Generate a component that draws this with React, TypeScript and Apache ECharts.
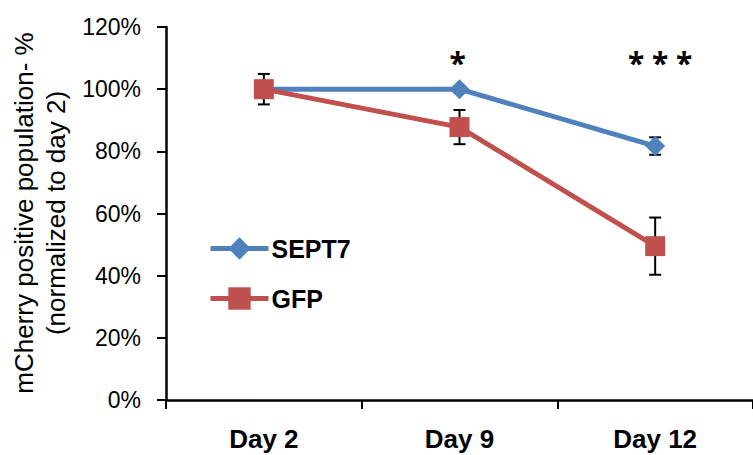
import React, { useEffect, useRef } from "react";
import * as echarts from "echarts";

const categories = ["Day 2", "Day 9", "Day 12"];
const sept7Values = [100, 100, 81.7];
const sept7Errors = [1, 1, 2.8];
const gfpValues = [100, 87.8, 49.5];
const gfpErrors = [4.9, 5.5, 9.2];
const yTicks = { min: 0, max: 120, interval: 20 };
const significanceMarks = [
  { cat: 1, value: 108.5, text: "*" },
  { cat: 2, value: 108.5, text: "* * *" },
];
const yTitle = ["mCherry positive population- %", "(normalized to day 2)"];

const BLUE = "#4F81BD";
const RED = "#C0504D";

function errorSeries(values: number[], errors: number[], name: string) {
  return {
    type: "custom",
    name: name + "-err",
    z: 1,
    silent: true,
    data: values.map((v, i) => [i, v - errors[i], v + errors[i]]),
    renderItem: (params: any, api: any) => {
      const x = api.value(0);
      const lo = api.coord([x, api.value(1)]);
      const hi = api.coord([x, api.value(2)]);
      const cap = 6;
      const style = { stroke: "#000", lineWidth: 2 };
      return {
        type: "group",
        children: [
          { type: "line", shape: { x1: lo[0], y1: lo[1], x2: hi[0], y2: hi[1] }, style },
          { type: "line", shape: { x1: lo[0] - cap, y1: lo[1], x2: lo[0] + cap, y2: lo[1] }, style },
          { type: "line", shape: { x1: hi[0] - cap, y1: hi[1], x2: hi[0] + cap, y2: hi[1] }, style },
        ],
      };
    },
  };
}

export default function App() {
  const ref = useRef<HTMLDivElement>(null);
  useEffect(() => {
    if (!ref.current) return;
    const chart = echarts.init(ref.current, undefined, { renderer: "svg" });
    const font = "'Liberation Sans', Arial, sans-serif";
    chart.setOption({
      animation: false,
      backgroundColor: "#fff",
      grid: { left: 166, top: 27, width: 592, height: 373 },
      legend: {
        orient: "vertical",
        left: 203,
        top: 231,
        itemGap: 25,
        itemWidth: 58,
        itemHeight: 28,
        data: ["SEPT7", "GFP"],
        lineStyle: { width: 5 },
        textStyle: { fontFamily: font, fontSize: 25, fontWeight: "bold", color: "#000", padding: [0, 0, 0, -2] },
      },
      xAxis: {
        type: "category",
        data: categories,
        boundaryGap: true,
        axisLine: { lineStyle: { color: "#000", width: 2.5 } },
        axisTick: { show: true, interval: 0, length: 9, lineStyle: { color: "#000", width: 2 } },
        axisLabel: { fontFamily: font, fontSize: 26, fontWeight: "bold", color: "#000", margin: 26 },
      },
      yAxis: {
        type: "value",
        min: yTicks.min,
        max: yTicks.max,
        interval: yTicks.interval,
        axisLine: { show: true, lineStyle: { color: "#000", width: 2.5 } },
        axisTick: { show: true, length: 9, lineStyle: { color: "#000", width: 2 } },
        splitLine: { show: false },
        axisLabel: { fontFamily: font, fontSize: 23, color: "#000", margin: 25, formatter: "{value}%" },
      },
      graphic: [
        {
          type: "text",
          x: 40,
          y: 213,
          rotation: Math.PI / 2,
          style: {
            text: yTitle.join("\n"),
            font: `26px ${font}`,
            fill: "#000",
            align: "center",
            verticalAlign: "middle",
            lineHeight: 32,
          },
        },
      ],
      series: [
        errorSeries(sept7Values, sept7Errors, "SEPT7"),
        errorSeries(gfpValues, gfpErrors, "GFP"),
        {
          type: "line",
          name: "SEPT7",
          z: 3,
          data: sept7Values,
          symbol: "diamond",
          symbolSize: 20,
          lineStyle: { color: BLUE, width: 5 },
          itemStyle: { color: BLUE },
        },
        {
          type: "line",
          name: "GFP",
          z: 4,
          data: gfpValues,
          symbol: "rect",
          symbolSize: 20,
          lineStyle: { color: RED, width: 5 },
          itemStyle: { color: RED },
        },
        {
          type: "custom",
          name: "significance",
          silent: true,
          z: 5,
          data: significanceMarks.map((m) => [m.cat, m.value]),
          renderItem: (params: any, api: any) => {
            const p = api.coord([api.value(0), api.value(1)]);
            const t = significanceMarks[params.dataIndex].text;
            return {
              type: "text",
              x: p[0] + (t.length > 1 ? 5 : -2),
              y: p[1],
              style: {
                text: t,
                font: "bold 30px 'Noto Sans', sans-serif",
                fill: "#000",
                align: "center",
                verticalAlign: "middle",
              },
            };
          },
        },
      ],
    });
    return () => chart.dispose();
  }, []);
  return <div ref={ref} style={{ position: "fixed", left: 0, top: 0, width: 753, height: 455 }} />;
}
